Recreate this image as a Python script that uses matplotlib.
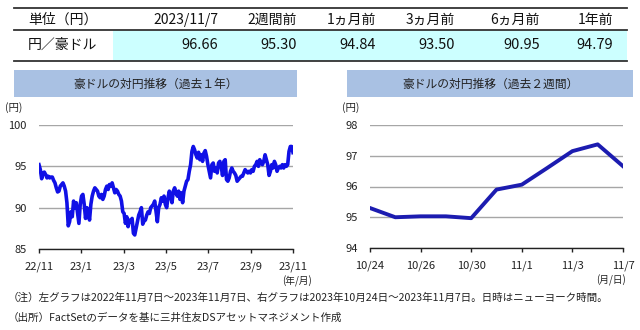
import matplotlib
matplotlib.use('Agg')
import matplotlib.pyplot as plt
from matplotlib.lines import Line2D
from matplotlib.patches import Rectangle
import numpy as np

plt.rcParams['font.family'] = ['Noto Sans CJK JP', 'DejaVu Sans']

# table data
table_head = ['2023/11/7', '2週間前', '1ヵ月前', '3ヵ月前', '6ヵ月前', '1年前']
table_vals = [96.66, 95.30, 94.84, 93.50, 90.95, 94.79]

# left chart: AUD/JPY over the past year
left_vals = [
    95.2, 94.6, 93.5, 94.2, 94.3, 94.0, 93.6, 93.8, 93.6, 93.7, 93.7, 93.3,
    93.0, 92.4, 91.9, 92.0, 92.6, 92.8, 93.0, 92.6, 92.0, 90.6, 87.8, 88.3,
    89.5, 88.9, 90.8, 90.0, 90.6, 89.4, 88.1, 90.4, 91.4, 91.6, 90.4, 88.7,
    90.0, 89.4, 88.5, 90.4, 91.4, 92.0, 92.4, 92.2, 92.0, 91.4, 91.2, 91.6,
    91.0, 91.4, 92.2, 92.6, 92.2, 92.8, 92.6, 93.0, 92.4, 91.8, 92.2, 92.0,
    91.6, 91.4, 90.8, 89.5, 89.3, 88.1, 88.9, 87.7, 88.5, 88.3, 88.7, 86.9,
    86.7, 87.5, 88.3, 89.1, 89.5, 90.0, 88.0, 88.4, 88.5, 89.1, 89.5, 89.3,
    90.0, 90.2, 90.4, 90.8, 89.5, 88.3, 90.0, 90.4, 91.2, 90.8, 91.4, 90.4,
    90.0, 91.2, 92.0, 91.4, 90.6, 92.0, 92.4, 91.8, 91.4, 92.0, 91.0, 91.8,
    90.6, 92.0, 92.6, 93.2, 93.4, 94.4, 95.2, 96.8, 97.4, 97.0, 96.4, 96.0,
    96.7, 95.8, 96.4, 95.6, 96.6, 96.9, 96.2, 95.2, 94.4, 93.6, 95.2, 95.4,
    94.4, 94.8, 94.2, 95.4, 95.6, 95.0, 93.9, 95.6, 95.8, 93.4, 93.2, 93.6,
    94.4, 94.8, 94.4, 94.2, 93.9, 93.2, 93.4, 93.6, 93.8, 93.8, 94.2, 94.6,
    94.4, 94.2, 94.4, 94.2, 94.6, 94.4, 95.0, 95.2, 95.6, 95.0, 95.8, 95.4,
    95.2, 95.6, 96.4, 95.8, 95.2, 93.9, 94.4, 95.2, 94.8, 95.6, 95.2, 94.4,
    94.8, 95.0, 94.8, 95.2, 94.8, 95.2, 95.0, 95.2, 96.8, 97.4, 97.4, 96.66,
]
left_ticklabels = ['22/11', '23/1', '23/3', '23/5', '23/7', '23/9', '23/11']

# right chart: past two weeks (business days)
right_dates = ['10/24', '10/25', '10/26', '10/27', '10/30', '10/31',
               '11/1', '11/2', '11/3', '11/6', '11/7']
right_vals = [95.30, 95.00, 95.03, 95.03, 94.97, 95.90,
              96.06, 96.60, 97.15, 97.37, 96.66]
right_ticklabels = ['10/24', '10/26', '10/30', '11/1', '11/3', '11/7']

W, H = 640, 330


def fx(x):
    return x / W


def fy(y):
    return 1 - y / H


fig = plt.figure(figsize=(6.4, 3.3), dpi=100)
fig.patch.set_facecolor('white')

# ---- table ----
fig.patches.append(Rectangle((fx(113), fy(61)), fx(627) - fx(113), fy(30) - fy(61),
                             transform=fig.transFigure, facecolor='#ccffff',
                             edgecolor='none', zorder=0))
for yy in (8, 30, 61):
    fig.add_artist(Line2D([fx(14), fx(627)], [fy(yy), fy(yy)], color='#333333',
                          lw=1.3, transform=fig.transFigure))
fig.text(fx(28), fy(20), '単位（円）', fontsize=10, va='center', color='#111111')
fig.text(fx(28), fy(45), '円／豪ドル', fontsize=10, va='center', color='#111111')
col_right = [218, 297, 376, 455, 540, 613]
for xr, head, val in zip(col_right, table_head, table_vals):
    fig.text(fx(xr), fy(20), head, fontsize=10, ha='right', va='center', color='#111111')
    fig.text(fx(xr), fy(45), f'{val:.2f}', fontsize=10.5, ha='right', va='center',
             color='#111111')

# ---- chart title boxes ----
for x0, x1, title in [(14, 297, '豪ドルの対円推移（過去１年）'),
                      (347, 633, '豪ドルの対円推移（過去２週間）')]:
    fig.patches.append(Rectangle((fx(x0), fy(97)), fx(x1) - fx(x0), fy(70) - fy(97),
                                 transform=fig.transFigure, facecolor='#a9c1e3',
                                 edgecolor='none'))
    fig.text(fx((x0 + x1) / 2), fy(84), title, fontsize=8.5, ha='center',
             va='center', color='#222222')


def style_axes(ax):
    for s in ('left', 'right', 'top'):
        ax.spines[s].set_visible(False)
    ax.spines['bottom'].set_color('#222222')
    ax.spines['bottom'].set_linewidth(1.0)
    ax.tick_params(axis='y', length=0, pad=9, labelsize=8, colors='#222222')
    ax.tick_params(axis='x', direction='out', length=3, width=1, pad=6,
                   labelsize=8, colors='#222222')
    ax.grid(axis='y', color='#a6a6a6', lw=1.0)
    ax.set_axisbelow(True)


# ---- left chart ----
axl = fig.add_axes([fx(39), fy(249), fx(293) - fx(39), fy(125) - fy(249)])
style_axes(axl)
xl = np.arange(len(left_vals))
axl.plot(xl, left_vals, color='#1010e6', lw=2.6, solid_joinstyle='round')
axl.set_xlim(0, len(left_vals) - 1)
axl.set_ylim(85, 100)
axl.set_yticks([85, 90, 95, 100])
axl.set_xticks(np.linspace(0, len(left_vals) - 1, len(left_ticklabels)))
axl.set_xticklabels(left_ticklabels)
fig.text(fx(14), fy(108), '(円)', fontsize=7.5, ha='center', va='center', color='#222222')
fig.text(fx(297), fy(281), '(年/月)', fontsize=7, ha='center', va='center', color='#222222')

# ---- right chart ----
axr = fig.add_axes([fx(370), fy(248), fx(623) - fx(370), fy(125) - fy(248)])
style_axes(axr)
xr_pos = np.arange(len(right_vals))
axr.plot(xr_pos, right_vals, color='#1c1cb0', lw=2.8, solid_joinstyle='round')
axr.set_xlim(0, len(right_vals) - 1)
axr.set_ylim(94, 98)
axr.set_yticks([94, 95, 96, 97, 98])
axr.set_xticks([right_dates.index(d) for d in right_ticklabels])
axr.set_xticklabels(right_ticklabels)
fig.text(fx(351), fy(108), '(円)', fontsize=7.5, ha='center', va='center', color='#222222')
fig.text(fx(611), fy(280), '(月/日)', fontsize=7, ha='center', va='center', color='#222222')

# ---- footnotes ----
fig.text(fx(8), fy(298),
         '（注）左グラフは2022年11月7日～2023年11月7日、右グラフは2023年10月24日～'
         '2023年11月7日。日時はニューヨーク時間。',
         fontsize=7.6, va='center', color='#222222')
fig.text(fx(8), fy(318), '（出所）FactSetのデータを基に三井住友DSアセットマネジメント作成',
         fontsize=7.6, va='center', color='#222222')

fig.savefig('out.png', dpi=100)
